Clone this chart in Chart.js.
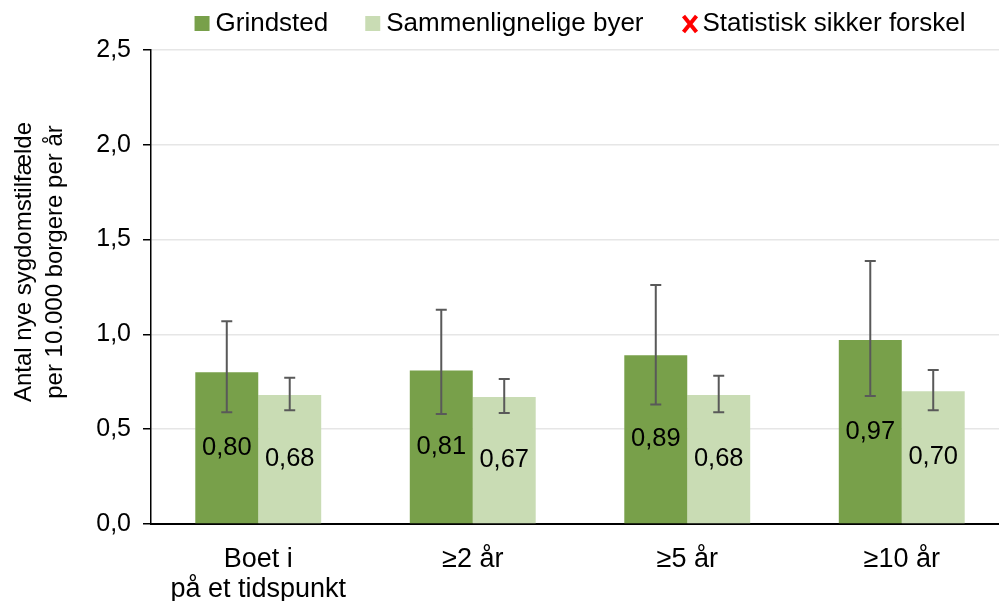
<!DOCTYPE html>
<html>
<head>
<meta charset="utf-8">
<script src="https://cdn.jsdelivr.net/npm/chart.js@4/dist/chart.umd.min.js"></script>
<style>
  html, body { margin: 0; padding: 0; background: #fff; overflow: hidden; }
  #wrap { width: 1010px; height: 601px; }
</style>
</head>
<body>
<div id="wrap"><canvas id="chart"></canvas></div>
<script>
// data
const categories = [['Boet i', 'på et tidspunkt'], '≥2 år', '≥5 år', '≥10 år'];
const grindsted = [0.80, 0.81, 0.89, 0.97];
const grindstedLow = [0.59, 0.58, 0.63, 0.675];
const grindstedHigh = [1.07, 1.13, 1.26, 1.387];
const sammenlign = [0.68, 0.67, 0.68, 0.70];
const sammenlignLow = [0.60, 0.585, 0.59, 0.60];
const sammenlignHigh = [0.772, 0.765, 0.782, 0.812];
const yTitle = ['Antal nye sygdomstilfælde', 'per 10.000 borgere per år'];
const legendItems = ['Grindsted', 'Sammenlignelige byer', 'Statistisk sikker forskel'];

const darkGreen = '#78A04A';
const lightGreen = '#C9DCB4';
const errColor = '#595959';
const fontFamily = 'Arial, "Liberation Sans", sans-serif';

const comma = (v, d) => v.toFixed(d).replace('.', ',');

// fejlstreger
const errorBars = {
  id: 'errorBars',
  afterDatasetsDraw(chart) {
    const ctx = chart.ctx;
    const y = chart.scales.y;
    const ranges = [[grindstedLow, grindstedHigh], [sammenlignLow, sammenlignHigh]];
    ctx.save();
    ctx.strokeStyle = errColor;
    ctx.lineWidth = 2;
    chart.data.datasets.forEach((ds, i) => {
      chart.getDatasetMeta(i).data.forEach((bar, j) => {
        const top = y.getPixelForValue(ranges[i][1][j]);
        const bottom = y.getPixelForValue(ranges[i][0][j]);
        ctx.beginPath();
        ctx.moveTo(bar.x, top);
        ctx.lineTo(bar.x, bottom);
        ctx.moveTo(bar.x - 5.5, top);
        ctx.lineTo(bar.x + 5.5, top);
        ctx.moveTo(bar.x - 5.5, bottom);
        ctx.lineTo(bar.x + 5.5, bottom);
        ctx.stroke();
      });
    });
    ctx.restore();
  }
};

// værdier midt i søjlerne
const barLabels = {
  id: 'barLabels',
  afterDraw(chart) {
    const ctx = chart.ctx;
    ctx.save();
    ctx.font = '25.5px ' + fontFamily;
    ctx.fillStyle = '#000';
    ctx.textAlign = 'center';
    ctx.textBaseline = 'middle';
    chart.data.datasets.forEach((ds, i) => {
      chart.getDatasetMeta(i).data.forEach((bar, j) => {
        ctx.fillText(comma(ds.data[j], 2), bar.x, (bar.y + bar.base) / 2);
      });
    });
    ctx.restore();
  }
};

// forklaring + y-aksens titel
const legendAndTitle = {
  id: 'legendAndTitle',
  afterDraw(chart) {
    const ctx = chart.ctx;
    const area = chart.chartArea;
    ctx.save();
    ctx.font = '26px ' + fontFamily;
    ctx.textBaseline = 'middle';
    ctx.textAlign = 'left';
    const markers = [16, 16, 19];
    const gaps = [5, 5, 3];
    let total = 0;
    legendItems.forEach((t, i) => {
      total += markers[i] + gaps[i] + ctx.measureText(t).width;
      if (i < legendItems.length - 1) total += 37;
    });
    let x = (area.left + area.right) / 2 - total / 2;
    const cy = 24;
    legendItems.forEach((t, i) => {
      if (i < 2) {
        ctx.fillStyle = i === 0 ? darkGreen : lightGreen;
        ctx.fillRect(x, cy - 8, 15, 15);
      } else {
        ctx.strokeStyle = '#FF0000';
        ctx.lineWidth = 4;
        ctx.beginPath();
        ctx.moveTo(x + 3, cy - 8);
        ctx.lineTo(x + 16, cy + 8);
        ctx.moveTo(x + 16, cy - 8);
        ctx.lineTo(x + 3, cy + 8);
        ctx.stroke();
      }
      x += markers[i] + gaps[i];
      ctx.fillStyle = '#000';
      ctx.fillText(t, x, cy);
      x += ctx.measureText(t).width + 37;
    });

    ctx.font = '24px ' + fontFamily;
    ctx.textAlign = 'center';
    ctx.translate(0, 262);
    ctx.rotate(-Math.PI / 2);
    ctx.fillText(yTitle[0], 0, 24);
    ctx.fillText(yTitle[1], 0, 55);
    ctx.restore();
  }
};

new Chart(document.getElementById('chart'), {
  type: 'bar',
  data: {
    labels: categories,
    datasets: [
      { label: legendItems[0], data: grindsted, backgroundColor: darkGreen },
      { label: legendItems[1], data: sammenlign, backgroundColor: lightGreen }
    ]
  },
  options: {
    responsive: true,
    maintainAspectRatio: false,
    animation: false,
    layout: { padding: { top: 50, right: 1, bottom: 0, left: 0 } },
    datasets: { bar: { categoryPercentage: 0.587, barPercentage: 1 } },
    plugins: { legend: { display: false }, tooltip: { enabled: false } },
    scales: {
      x: {
        grid: { display: false },
        border: { color: '#000', width: 2 },
        ticks: { color: '#000', padding: 12, font: { family: fontFamily, size: 27, lineHeight: 1.13 }, maxRotation: 0 },
        afterFit(scale) { scale.height = 77; }
      },
      y: {
        min: 0,
        max: 2.5,
        grid: { color: '#E6E6E6', lineWidth: 1.5, tickColor: '#000', tickLength: 8, tickWidth: 1.5 },
        border: { color: '#000', width: 1.5 },
        ticks: {
          stepSize: 0.5,
          color: '#000',
          padding: 12,
          font: { family: fontFamily, size: 25 },
          callback: v => comma(v, 1)
        },
        afterFit(scale) { scale.width = 151; }
      }
    }
  },
  plugins: [errorBars, barLabels, legendAndTitle]
});
</script>
</body>
</html>
